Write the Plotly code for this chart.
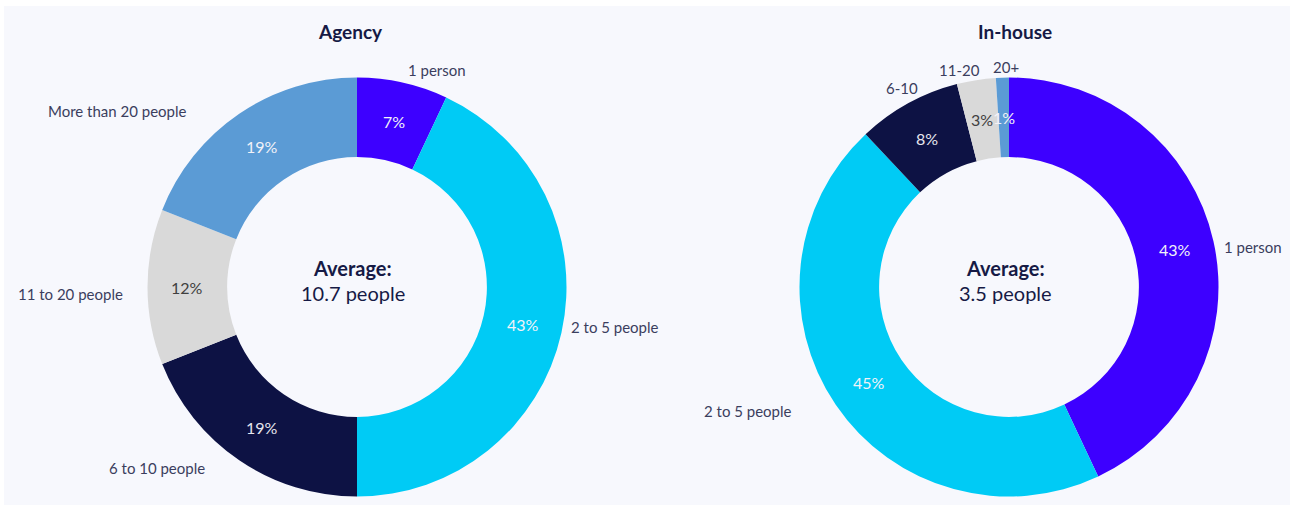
import math
import plotly.graph_objects as go

# Team size distribution (% of respondents)
agency_labels = ["1 person", "2 to 5 people", "6 to 10 people", "11 to 20 people", "More than 20 people"]
agency_values = [7, 43, 19, 12, 19]
agency_average = "10.7 people"

inhouse_labels = ["1 person", "2 to 5 people", "6-10", "11-20", "20+"]
inhouse_values = [43, 45, 8, 3, 1]
inhouse_average = "3.5 people"

slice_colors = ["#3d00ff", "#00cbf5", "#0d1244", "#d9d9d9", "#5b9bd5"]
pct_colors = ["#f2f2f8", "#f2f2f8", "#e6e6ee", "#404040", "#f2f2f8"]

W, H = 1290, 507
FONT = "Lato, 'Open Sans', sans-serif"
TITLE_COLOR = "#161a45"
LABEL_COLOR = "#3b3e5e"
HOLE = 0.62

# pie boxes in pixels: (centre x, centre y, radius)
PIES = {"agency": (357, 287, 209.5), "inhouse": (1009, 287, 209.5)}

# category label anchors (pixels, text centre)
agency_label_pos = [(437, 70), (615, 327), (157, 468), (70, 294), (117, 111)]
inhouse_label_pos = [(1253, 247), (748, 411), (902, 88), (959, 70), (1006, 67)]


def px(x, y):
    return x / W, 1 - y / H


def domain(key):
    cx, cy, r = PIES[key]
    return dict(x=[(cx - r) / W, (cx + r) / W], y=[1 - (cy + r) / H, 1 - (cy - r) / H])


def donut(values, labels, key):
    return go.Pie(
        values=values,
        labels=labels,
        domain=domain(key),
        hole=HOLE,
        sort=False,
        direction="clockwise",
        rotation=0,
        marker=dict(colors=slice_colors, line=dict(width=0)),
        textinfo="none",
        hoverinfo="label+value",
        showlegend=False,
    )


def percent_labels(values, key):
    # value labels at the middle of each ring segment (clockwise from 12 o'clock)
    cx, cy, r = PIES[key]
    rmid = r * (1 + HOLE) / 2
    total = float(sum(values))
    out, cum = [], 0.0
    for v, col in zip(values, pct_colors):
        theta = 2 * math.pi * (cum + v / 2) / total
        cum += v
        ax, ay = px(cx + rmid * math.sin(theta), cy - rmid * math.cos(theta))
        out.append(dict(x=ax, y=ay, xref="paper", yref="paper", text="%g%%" % v,
                        showarrow=False, xanchor="center", yanchor="middle",
                        font=dict(family=FONT, size=16, color=col)))
    return out


fig = go.Figure()
fig.add_trace(donut(agency_values, agency_labels, "agency"))
fig.add_trace(donut(inhouse_values, inhouse_labels, "inhouse"))

annotations = percent_labels(agency_values, "agency") + percent_labels(inhouse_values, "inhouse")

for labels, positions in ((agency_labels, agency_label_pos), (inhouse_labels, inhouse_label_pos)):
    for text, (x, y) in zip(labels, positions):
        ax, ay = px(x, y)
        annotations.append(dict(x=ax, y=ay, xref="paper", yref="paper", text=text,
                                showarrow=False, xanchor="center", yanchor="middle",
                                font=dict(family=FONT, size=15, color=LABEL_COLOR)))

for title, (x, y) in (("Agency", (350, 32)), ("In-house", (1015, 32))):
    ax, ay = px(x, y)
    annotations.append(dict(x=ax, y=ay, xref="paper", yref="paper", text="<b>%s</b>" % title,
                            showarrow=False, xanchor="center", yanchor="middle",
                            font=dict(family=FONT, size=19, color=TITLE_COLOR)))

for key, avg in (("agency", agency_average), ("inhouse", inhouse_average)):
    cx, cy, _ = PIES[key]
    for text, dy in (("<b>Average:</b>", -19), (avg, 6)):
        ax, ay = px(cx - 4, cy + dy)
        annotations.append(dict(x=ax, y=ay, xref="paper", yref="paper", text=text,
                                showarrow=False, xanchor="center", yanchor="middle",
                                font=dict(family=FONT, size=20, color=TITLE_COLOR)))

fig.update_layout(
    width=W,
    height=H,
    margin=dict(l=0, r=0, t=0, b=0),
    paper_bgcolor="white",
    plot_bgcolor="white",
    annotations=annotations,
    shapes=[dict(type="rect", xref="paper", yref="paper", x0=4 / W, x1=1, y0=1 - 505 / H, y1=1 - 6 / H,
                 fillcolor="#f7f8fd", line=dict(width=0), layer="below")],
)

fig.write_html("out.html")
